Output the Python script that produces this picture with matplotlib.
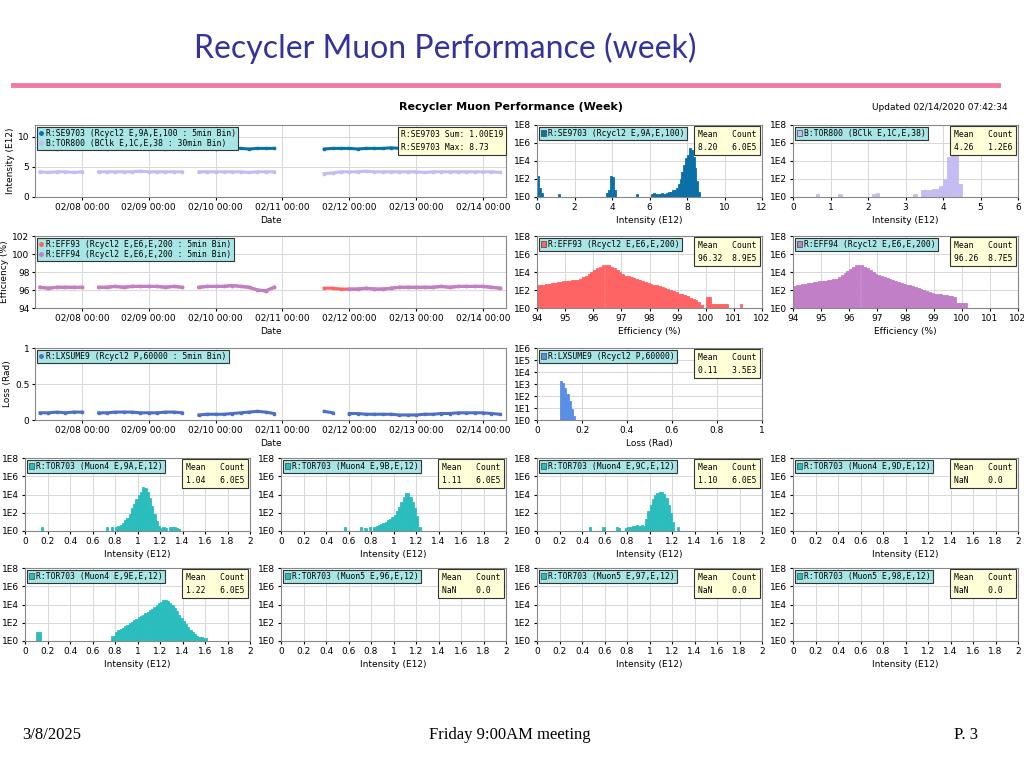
import numpy as np
import pandas as pd
import matplotlib
matplotlib.use("Agg")
import matplotlib.pyplot as plt
import matplotlib.dates as mdates
from matplotlib.lines import Line2D
from matplotlib.patches import Patch

nan = np.nan

# ---- time series: samples every 3 hours starting 02/07 09:00 ----
times = pd.date_range("2020-02-07 09:00", periods=56, freq="3h")

se9703 = [8.1, 8.1, 8.0, 8.1, 8.1, 8.2, 8.1, 8.1, 8.0, 8.1,
          8.1, 8.1, 8.2, 8.1, 8.1, 8.0, 8.1, 8.1, 8.1, 8.1,
          8.1, 8.0, 8.1, 8.2, 8.1, 8.0, 8.1, 8.1, 8.1, nan,
          nan, nan, nan, nan, 8.0, 8.1, 8.1, 8.1, 8.0, 8.1,
          8.1, 8.1, 8.2, 8.1, 8.1, 8.1, 8.0, 8.1, 8.1, 8.1,
          8.1, 8.1, 8.0, 8.1, 8.1, 8.0]
tor800 = [4.2, 4.1, 4.2, 4.2, 4.1, 4.2, nan, 4.2, 4.2, 4.2,
          4.2, 4.2, 4.3, 4.2, 4.2, 4.2, 4.2, 4.2, nan, 4.2,
          4.2, 4.2, 4.2, 4.2, 4.2, 4.1, 4.2, 4.2, 4.2, nan,
          nan, nan, nan, nan, 3.9, 4.0, 4.2, 4.2, 4.2, 4.3,
          4.2, 4.2, 4.2, 4.2, 4.2, 4.2, 4.1, 4.2, 4.2, 4.2,
          4.2, 4.2, 4.2, 4.2, 4.2, 4.1]
eff93 = [96.3, 96.2, 96.3, 96.3, 96.3, 96.3, nan, 96.3, 96.3, 96.4,
         96.3, 96.4, 96.4, 96.4, 96.4, 96.3, 96.4, 96.3, nan, 96.3,
         96.4, 96.4, 96.4, 96.5, 96.4, 96.3, 96.0, 95.9, 96.3, nan,
         nan, nan, nan, nan, 96.2, 96.2, 96.1, 96.1, 96.1, 96.2,
         96.1, 96.1, 96.2, 96.3, 96.3, 96.3, 96.3, 96.3, 96.4, 96.3,
         96.4, 96.4, 96.4, 96.4, 96.3, 96.2]
eff94 = [96.3, 96.2, 96.3, 96.3, 96.3, 96.3, nan, 96.3, 96.3, 96.4,
         96.3, 96.4, 96.4, 96.4, 96.4, 96.3, 96.4, 96.3, nan, 96.3,
         96.4, 96.4, 96.4, 96.5, 96.4, 96.3, 96.0, 95.9, 96.3, nan,
         nan, nan, nan, nan, nan, nan, nan, 96.1, 96.1, 96.2,
         96.1, 96.1, 96.2, 96.3, 96.3, 96.3, 96.3, 96.3, 96.4, 96.3,
         96.4, 96.4, 96.4, 96.4, 96.3, 96.2]
lxsume9 = [0.10, 0.10, 0.11, 0.10, 0.11, 0.11, nan, 0.10, 0.10, 0.11,
           0.11, 0.11, 0.10, 0.10, 0.10, 0.11, 0.11, 0.10, nan, 0.07,
           0.08, 0.08, 0.08, 0.09, 0.10, 0.11, 0.12, 0.11, 0.09, nan,
           nan, nan, nan, nan, 0.12, 0.10, nan, 0.09, 0.09, 0.08,
           0.08, 0.08, 0.08, 0.07, 0.07, 0.07, 0.08, 0.08, 0.09, 0.09,
           0.10, 0.10, 0.10, 0.10, 0.09, 0.08]

# ---- histograms (bin left edges, counts) ----
se_hist_x = [0.0, 0.1, 0.2, 1.1, 3.7, 3.8, 3.9, 4.0, 4.1, 5.3, 6.1, 6.2, 6.3, 6.4, 6.5,
             6.6, 6.7, 6.8, 6.9, 7.0, 7.1, 7.2, 7.3, 7.4, 7.5, 7.6, 7.7, 7.8, 7.9,
             8.0, 8.1, 8.2, 8.3, 8.4, 8.5, 8.6]
se_hist_n = [200, 10, 2.5, 2, 2.5, 6, 200, 160, 6, 2, 2, 2.5, 2, 2, 2,
             3, 2, 2, 3, 4, 4, 6, 6, 10, 25, 100, 600, 4000, 2e4,
             5e4, 3e5, 1.6e5, 3e4, 1600, 60, 4]
tor_hist_x = [0.6, 1.2, 2.1, 2.2, 3.2, 3.4, 3.5, 3.6, 3.7, 3.8, 3.9, 4.0, 4.1, 4.2, 4.3, 4.4]
tor_hist_n = [2, 2, 2, 3, 2, 6, 6, 6, 7, 8, 15, 100, 3e4, 4e5, 4e4, 30]

eff_x = [94.0 + 0.1 * k for k in range(74)]
eff93_n = [320, 400, 400, 450, 500, 560, 630, 710, 800, 890,
           1000, 1100, 1300, 1300, 1400, 1600, 2500, 4000, 6300, 1e4,
           1.6e4, 2.5e4, 4e4, 5.6e4, 6.3e4, 5.6e4, 4e4, 2.5e4, 1.6e4, 1e4,
           6300, 4000, 3200, 2500, 2000, 1600, 1300, 1000, 800, 630,
           500, 400, 320, 250, 200, 160, 130, 100, 80, 63,
           40, 32, 25, 20, 13, 10, 8, 5, 2, 0,
           16, 16, 2.5, 2.5, 2.5, 2.5, 2.5, 2.5, 0, 0,
           0, 0, 2.5, 0]
eff94_n = [300, 380, 400, 450, 500, 560, 630, 710, 800, 890,
           1000, 1100, 1200, 1300, 1500, 1800, 3000, 5000, 8000, 1.3e4,
           2.2e4, 3.5e4, 5.6e4, 6.3e4, 5.6e4, 4e4, 2.5e4, 1.6e4, 1e4, 6300,
           4500, 3200, 2500, 2000, 1600, 1300, 1000, 800, 630, 500,
           400, 320, 250, 200, 160, 130, 100, 80, 63, 50,
           40, 32, 32, 25, 25, 20, 20, 16, 4, 4,
           4, 4, 0, 0, 0, 0, 0, 0, 0, 0,
           0, 0, 0, 0]
loss_hist_x = [0.10, 0.11, 0.12, 0.13, 0.14, 0.15, 0.16]
loss_hist_n = [1800, 1200, 500, 150, 40, 8, 2]

t9a_x = [0.14, 0.72, 0.76, 0.80, 0.82, 0.84, 0.86, 0.88, 0.90, 0.92, 0.94, 0.96, 0.98, 1.00,
         1.02, 1.04, 1.06, 1.08, 1.10, 1.12, 1.14, 1.16, 1.18, 1.20, 1.22, 1.24, 1.28, 1.30,
         1.32, 1.34, 1.36]
t9a_n = [2.5, 2.5, 3, 3, 4, 5, 8, 15, 30, 80, 300, 1000, 3000, 8000,
         2e4, 6e4, 5e4, 2e4, 4000, 600, 80, 12, 4, 2, 3, 2, 3, 3,
         2.5, 2, 1.5]
t9b_x = [0.56, 0.70, 0.74, 0.78, 0.82, 0.84, 0.86, 0.88, 0.90, 0.92, 0.94, 0.96, 0.98, 1.00,
         1.02, 1.04, 1.06, 1.08, 1.10, 1.12, 1.14, 1.16, 1.18, 1.20, 1.22]
t9b_n = [3, 3, 2, 2.5, 3, 4, 5, 6, 8, 10, 15, 20, 35, 60,
         150, 400, 1500, 6000, 1.5e4, 1.3e4, 6000, 1500, 300, 40, 3]
t9c_x = [0.46, 0.58, 0.70, 0.72, 0.78, 0.80, 0.82, 0.84, 0.86, 0.88, 0.90, 0.92, 0.94, 0.96,
         0.98, 1.00, 1.02, 1.04, 1.06, 1.08, 1.10, 1.12, 1.14, 1.16, 1.18, 1.20, 1.24]
t9c_n = [3, 3, 3, 2, 2, 3, 3, 3.5, 4, 5, 4, 5, 4, 20,
         150, 800, 3000, 8000, 1.5e4, 2e4, 2e4, 1.2e4, 4000, 800, 100, 10, 3]
t9e_x = [0.10, 0.12, 0.76, 0.78, 0.80, 0.82, 0.84, 0.86, 0.88, 0.90, 0.92, 0.94, 0.96, 0.98,
         1.00, 1.02, 1.04, 1.06, 1.08, 1.10, 1.12, 1.14, 1.16, 1.18, 1.20, 1.22, 1.24, 1.26,
         1.28, 1.30, 1.32, 1.34, 1.36, 1.38, 1.40, 1.42, 1.44, 1.46, 1.48, 1.50, 1.52, 1.54,
         1.56, 1.58, 1.60]
t9e_n = [10, 10, 4, 4, 10, 15, 20, 30, 45, 60, 90, 130, 180, 260,
         380, 550, 800, 1100, 1600, 2300, 3300, 5000, 8000, 1.3e4, 2e4, 2.8e4, 3e4, 2.5e4,
         1.5e4, 8000, 4000, 1800, 800, 350, 150, 70, 35, 18, 10, 6, 4, 3,
         3, 2, 2]

BLUE = "#0b6fa8"
LAV = "#c4bcf2"
RED = "#ff6464"
PURP = "#c07fc6"
LBLUE = "#4d6fc4"
HBLUE = "#5a8fe6"
TEAL = "#2bbdbd"
LEG_BG = "#a8e6e6"
STAT_BG = "#ffffd8"
MONO = "DejaVu Sans Mono"

fig = plt.figure(figsize=(10.24, 7.68), dpi=100)


def place(x0, y0, x1, y1):
    ax = fig.add_axes([x0 / 1024, 1 - y1 / 768, (x1 - x0) / 1024, (y1 - y0) / 768])
    ax.tick_params(labelsize=6.5, length=2, pad=2)
    ax.grid(True, color="#d8d8d8", linewidth=0.7)
    ax.set_axisbelow(True)
    for s in ax.spines.values():
        s.set_color("#888888")
        s.set_linewidth(0.8)
    return ax


def leg(ax, handles, labels, loc="upper left"):
    lg = ax.legend(handles, labels, loc=loc, prop={"family": MONO, "size": 5.8},
                   facecolor=LEG_BG, edgecolor="#333333", framealpha=1, fancybox=False,
                   handlelength=0.6, handletextpad=0.3, borderpad=0.25, labelspacing=0.15,
                   borderaxespad=0.25)
    lg.get_frame().set_linewidth(0.8)
    return lg


def stat(ax, text):
    ax.text(0.975, 0.93, text, transform=ax.transAxes, ha="right", va="top",
            multialignment="left", family=MONO, fontsize=5.8, linespacing=1.5,
            bbox=dict(boxstyle="square,pad=0.45", fc=STAT_BG, ec="#333333", lw=0.8))


def timeax(ax, ylabel):
    ax.set_xlim(pd.Timestamp("2020-02-07 07:10"), pd.Timestamp("2020-02-14 08:15"))
    ax.xaxis.set_major_locator(mdates.DayLocator())
    ax.xaxis.set_major_formatter(mdates.DateFormatter("%m/%d %H:%M"))
    ax.set_xlabel("Date", fontsize=6.5, labelpad=3)
    ax.set_ylabel(ylabel, fontsize=6.5, labelpad=2)


def hist(ax, xs, ns, width, color, lo, hi, step, label, stats, ytop=8):
    heights = [max(n - 1, 0) for n in ns]
    ax.bar(xs, heights, width=width, bottom=1, align="edge", color=color, edgecolor=color, linewidth=0.6)
    ax.set_yscale("log")
    ax.set_ylim(1, 10 ** ytop)
    if ytop == 8:
        ax.set_yticks([1, 1e2, 1e4, 1e6, 1e8])
        ax.set_yticklabels(["1E0", "1E2", "1E4", "1E6", "1E8"])
    else:
        ax.set_yticks([10 ** k for k in range(ytop + 1)])
        ax.set_yticklabels(["1E%d" % k for k in range(ytop + 1)])
    ax.minorticks_off()
    ax.set_xlim(lo, hi)
    ticks = np.arange(lo, hi + step / 2, step)
    ax.set_xticks(ticks)
    ax.set_xticklabels(["%g" % round(t, 2) for t in ticks])
    leg(ax, [Patch(fc=color, ec="#444444", lw=0.5)], [label])
    stat(ax, stats)


# row 1
ax = place(35, 125, 506, 197)
ax.plot(times, se9703, color=BLUE, lw=2.2, marker="s", ms=2)
ax.plot(times, tor800, color=LAV, lw=2.2, marker="s", ms=2)
ax.set_ylim(0, 12)
ax.set_yticks([0, 5, 10])
timeax(ax, "Intensity (E12)")
leg(ax, [Line2D([], [], ls="", marker="o", ms=2.5, color=BLUE),
         Line2D([], [], ls="", marker="o", ms=2.5, color=LAV)],
    ["R:SE9703 (Rcycl2 E,9A,E,100 : 5min Bin)", "B:TOR800 (BClk E,1C,E,38 : 30min Bin)"])
ax.text(0.995, 0.93, "R:SE9703 Sum: 1.00E19\nR:SE9703 Max: 8.73", transform=ax.transAxes,
        ha="right", va="top", multialignment="left", family=MONO, fontsize=5.8, linespacing=1.6,
        bbox=dict(boxstyle="square,pad=0.35", fc=STAT_BG, ec="#333333", lw=0.8))

ax = place(537, 125, 762, 197)
hist(ax, se_hist_x, se_hist_n, 0.1, BLUE, 0, 12, 2, "R:SE9703 (Rcycl2 E,9A,E,100)", "Mean   Count\n8.20   6.0E5")
ax.set_xlabel("Intensity (E12)", fontsize=6.5, labelpad=3)
ax = place(793, 125, 1018, 197)
hist(ax, tor_hist_x, tor_hist_n, 0.1, LAV, 0, 6, 1, "B:TOR800 (BClk E,1C,E,38)", "Mean   Count\n4.26   1.2E6")
ax.set_xlabel("Intensity (E12)", fontsize=6.5, labelpad=3)

# row 2
ax = place(35, 236, 506, 308)
ax.plot(times, eff93, color=RED, lw=2.2, marker="s", ms=2)
ax.plot(times, eff94, color=PURP, lw=2.2, marker="s", ms=2)
ax.set_ylim(94, 102)
ax.set_yticks([94, 96, 98, 100, 102])
timeax(ax, "Efficiency (%)")
leg(ax, [Line2D([], [], ls="", marker="o", ms=2.5, color=RED),
         Line2D([], [], ls="", marker="o", ms=2.5, color=PURP)],
    ["R:EFF93 (Rcycl2 E,E6,E,200 : 5min Bin)", "R:EFF94 (Rcycl2 E,E6,E,200 : 5min Bin)"])

ax = place(537, 236, 762, 308)
hist(ax, eff_x, eff93_n, 0.1, RED, 94, 102, 1, "R:EFF93 (Rcycl2 E,E6,E,200)", "Mean   Count\n96.32  8.9E5")
ax.set_xlabel("Efficiency (%)", fontsize=6.5, labelpad=3)
ax = place(793, 236, 1018, 308)
hist(ax, eff_x, eff94_n, 0.1, PURP, 94, 102, 1, "R:EFF94 (Rcycl2 E,E6,E,200)", "Mean   Count\n96.26  8.7E5")
ax.set_xlabel("Efficiency (%)", fontsize=6.5, labelpad=3)

# row 3
ax = place(35, 348, 506, 420)
ax.plot(times, lxsume9, color=LBLUE, lw=2.2, marker="s", ms=2)
ax.set_ylim(0, 1)
ax.set_yticks([0, 0.5, 1])
ax.set_yticklabels(["0", "0.5", "1"])
timeax(ax, "Loss (Rad)")
leg(ax, [Line2D([], [], ls="", marker="o", ms=2.5, color=LBLUE)],
    ["R:LXSUME9 (Rcycl2 P,60000 : 5min Bin)"])

ax = place(537, 348, 762, 420)
hist(ax, loss_hist_x, loss_hist_n, 0.01, HBLUE, 0, 1, 0.2, "R:LXSUME9 (Rcycl2 P,60000)", "Mean   Count\n0.11   3.5E3", ytop=6)
ax.set_xlabel("Loss (Rad)", fontsize=6.5, labelpad=3)

# rows 4-5: TOR703 histograms
tor703 = [
    (25, 458, t9a_x, t9a_n, "R:TOR703 (Muon4 E,9A,E,12)", "Mean   Count\n1.04   6.0E5"),
    (281, 458, t9b_x, t9b_n, "R:TOR703 (Muon4 E,9B,E,12)", "Mean   Count\n1.11   6.0E5"),
    (537, 458, t9c_x, t9c_n, "R:TOR703 (Muon4 E,9C,E,12)", "Mean   Count\n1.10   6.0E5"),
    (793, 458, [], [], "R:TOR703 (Muon4 E,9D,E,12)", "Mean   Count\nNaN    0.0  "),
    (25, 568, t9e_x, t9e_n, "R:TOR703 (Muon4 E,9E,E,12)", "Mean   Count\n1.22   6.0E5"),
    (281, 568, [], [], "R:TOR703 (Muon5 E,96,E,12)", "Mean   Count\nNaN    0.0  "),
    (537, 568, [], [], "R:TOR703 (Muon5 E,97,E,12)", "Mean   Count\nNaN    0.0  "),
    (793, 568, [], [], "R:TOR703 (Muon5 E,98,E,12)", "Mean   Count\nNaN    0.0  "),
]
for x0, y0, xs, ns, lab, st in tor703:
    ax = place(x0, y0, x0 + 225, y0 + 73)
    hist(ax, xs, ns, 0.02, TEAL, 0, 2, 0.2, lab, st)
    ax.set_xlabel("Intensity (E12)", fontsize=6.5, labelpad=3)

# page decorations
fig.text(445 / 1024, 1 - 48 / 768, "Recycler Muon Performance (week)", ha="center", va="center",
         fontsize=23, color="#333399", family="Lato")
fig.add_artist(Line2D([13 / 1024, 998 / 1024], [1 - 85 / 768] * 2, color="#f27aa2", lw=3.5))
fig.text(511 / 1024, 1 - 107 / 768, "Recycler Muon Performance (Week)", ha="center", va="center",
         fontsize=8, fontweight="bold")
fig.text(1008 / 1024, 1 - 107 / 768, "Updated 02/14/2020 07:42:34", ha="right", va="center", fontsize=6.5)
fig.text(22 / 1024, 1 - 735 / 768, "3/8/2025", ha="left", va="center", fontsize=12, family="Liberation Serif")
fig.text(510 / 1024, 1 - 735 / 768, "Friday 9:00AM meeting", ha="center", va="center", fontsize=12,
         family="Liberation Serif")
fig.text(978 / 1024, 1 - 735 / 768, "P. 3", ha="right", va="center", fontsize=12, family="Liberation Serif")

fig.savefig("out.png", dpi=100)
